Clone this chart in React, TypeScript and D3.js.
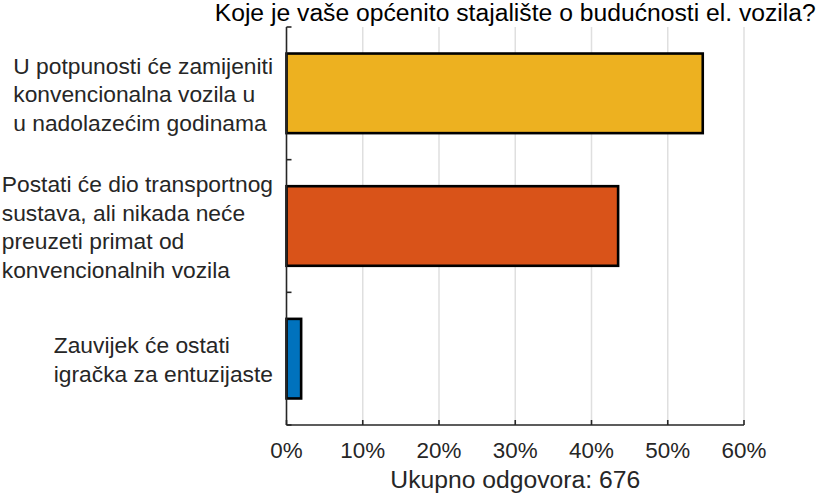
import React from "react";
import * as d3 from "d3";

const TITLE = "Koje je vaše općenito stajalište o budućnosti el. vozila?";
const X_LABEL = "Ukupno odgovora: 676";
const CATEGORY_LINES: string[][] = [
  ["U potpunosti će zamijeniti", "konvencionalna vozila u", "u nadolazećim godinama"],
  ["Postati će dio transportnog", "sustava, ali nikada neće", "preuzeti primat od", "konvencionalnih vozila"],
  ["Zauvijek će ostati", "igračka za entuzijaste"],
];
const VALUES = [54.59, 43.49, 1.92];
const COLORS = ["#EDB120", "#D95319", "#0072BD"];
const X_TICKS = [0, 10, 20, 30, 40, 50, 60];

const W = 822;
const H = 496;
const FONT = '"Liberation Sans", Arial, Helvetica, sans-serif';
const TICK_FS = 22.4;
const YLAB_FS = 22.8;
const TITLE_FS = 24.7;

function measure(text: string, size: number): number {
  if (typeof document === "undefined") return text.length * size * 0.5;
  const c = document.createElement("canvas");
  const ctx = c.getContext("2d");
  if (!ctx) return text.length * size * 0.5;
  ctx.font = `${size}px "Liberation Sans", Arial, sans-serif`;
  return ctx.measureText(text).width;
}

export default function App() {
  const left = 286.5;
  const right = 744;
  const top = 27;
  const bottom = 425;

  const x = d3.scaleLinear().domain([0, 60]).range([left, right]);
  const y = d3
    .scaleBand<number>()
    .domain(d3.range(VALUES.length))
    .range([top, bottom])
    .paddingInner(0.4)
    .paddingOuter(0.2);
  const step = y.step();
  const boundaries = d3.range(VALUES.length + 1).map((i) => top + i * step);

  const labelRight = 273;
  const lineH = 28.5;

  return (
    <svg
      width={W}
      height={H}
      style={{ position: "absolute", left: 0, top: 0, background: "#fff" }}
      fontFamily={FONT}
    >
      <rect x={0} y={0} width={W} height={H} fill="#fff" />
      {/* grid */}
      {X_TICKS.filter((t) => t !== 0).map((t) => (
        <line key={"g" + t} x1={x(t)} x2={x(t)} y1={top} y2={bottom} stroke="#dfdfdf" strokeWidth={1.5} />
      ))}
      {/* bars */}
      {VALUES.map((v, i) => (
        <rect
          key={"b" + i}
          x={x(0)}
          y={y(i)!}
          width={x(v) - x(0)}
          height={y.bandwidth()}
          fill={COLORS[i]}
          stroke="#000"
          strokeWidth={2.6}
        />
      ))}
      {/* axes */}
      <line x1={left} x2={left} y1={top} y2={bottom} stroke="#262626" strokeWidth={1.6} />
      <line x1={left} x2={right} y1={bottom} y2={bottom} stroke="#262626" strokeWidth={1.6} />
      {X_TICKS.map((t) => (
        <line key={"xt" + t} x1={x(t)} x2={x(t)} y1={bottom} y2={bottom - 5} stroke="#262626" strokeWidth={1.6} />
      ))}
      {boundaries.map((b, i) => (
        <line key={"yt" + i} x1={left} x2={left + 5} y1={b} y2={b} stroke="#262626" strokeWidth={1.6} />
      ))}
      {/* x tick labels */}
      {X_TICKS.map((t) => (
        <text key={"xl" + t} x={x(t)} y={458} textAnchor="middle" fontSize={TICK_FS} fill="#262626">
          {t + "%"}
        </text>
      ))}
      {/* y labels */}
      {CATEGORY_LINES.map((lines, i) => {
        const maxW = Math.max(...lines.map((l) => measure(l, YLAB_FS)));
        const x0 = labelRight - maxW;
        const cy = y(i)! + y.bandwidth() / 2;
        const firstBase = cy + 9 - ((lines.length - 1) * lineH) / 2;
        return (
          <text key={"yl" + i} fontSize={YLAB_FS} fill="#262626">
            {lines.map((l, j) => (
              <tspan key={j} x={x0} y={firstBase + j * lineH}>
                {l}
              </tspan>
            ))}
          </text>
        );
      })}
      {/* title */}
      <text x={(left + right) / 2} y={21} textAnchor="middle" fontSize={TITLE_FS} fill="#000">
        {TITLE}
      </text>
      {/* x label */}
      <text x={(left + right) / 2} y={488} textAnchor="middle" fontSize={TITLE_FS} fill="#262626">
        {X_LABEL}
      </text>
    </svg>
  );
}
